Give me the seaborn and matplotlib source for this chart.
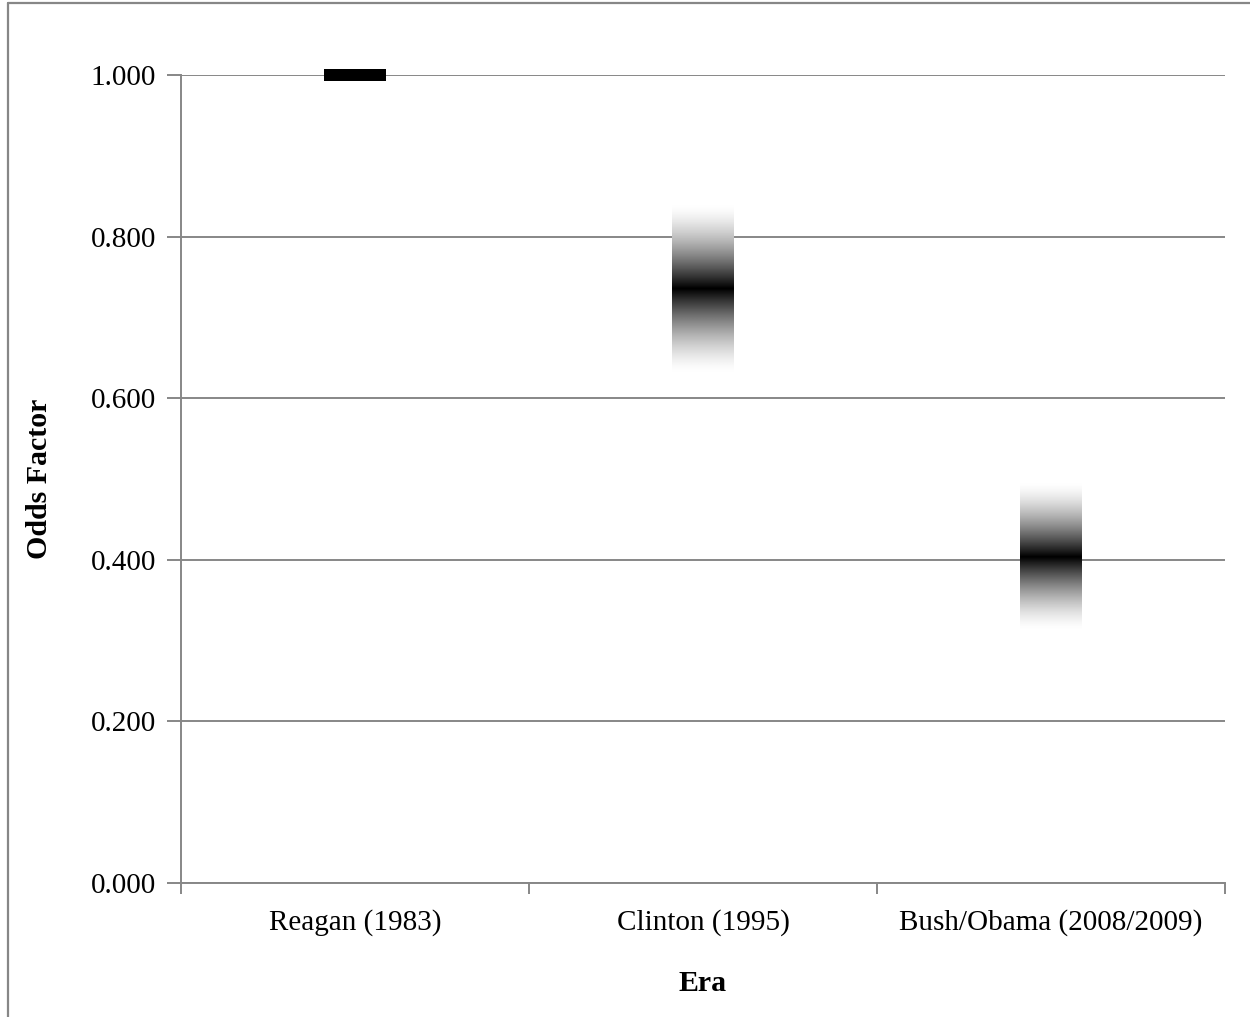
import numpy as np
import pandas as pd
import matplotlib
matplotlib.use("Agg")
import matplotlib.pyplot as plt
import seaborn as sns
from matplotlib.colors import LinearSegmentedColormap
from matplotlib.lines import Line2D

# Odds factor estimates by era, with the range shown as a shaded band
eras = ["Reagan (1983)", "Clinton (1995)", "Bush/Obama (2008/2009)"]
estimate = [1.000, 0.735, 0.403]
lower = [0.993, 0.631, 0.313]
upper = [1.008, 0.839, 0.495]
shaded = [False, True, True]

y_ticks = [0.0, 0.2, 0.4, 0.6, 0.8, 1.0]

df = pd.DataFrame({"Era": eras, "est": estimate, "lo": lower, "hi": upper})

sns.set_theme(style="white")
plt.rcParams["font.family"] = ["Liberation Serif", "DejaVu Serif"]

GRID = "#878787"

fig = plt.figure(figsize=(12.5, 10.17), dpi=100)
ax = fig.add_axes([181 / 1250, 1 - 883 / 1017, (1225 - 181) / 1250, (883 - 75) / 1017])

# invisible bars set up the categorical axis and give the band widths
sns.barplot(data=df, x="Era", y="hi", ax=ax, width=0.178,
            facecolor="none", edgecolor="none", errorbar=None)

# white -> black -> white fade centred on the estimate
fade = LinearSegmentedColormap.from_list("fade", ["white", "black"])
for patch, lo, hi, est, sh in zip(ax.patches, df["lo"], df["hi"], df["est"], shaded):
    x0 = patch.get_x()
    x1 = x0 + patch.get_width()
    if not sh:
        ax.fill_between([x0, x1], lo, hi, color="black", lw=0, zorder=3, clip_on=False)
        continue
    yy = np.linspace(lo, hi, 400)
    t = np.where(yy <= est, (yy - lo) / (est - lo), (hi - yy) / (hi - est))
    dark = np.clip(t, 0, 1) ** 1.5
    ax.imshow(dark[:, None], cmap=fade, vmin=0, vmax=1, origin="lower",
              extent=[x0, x1, lo, hi], aspect="auto", zorder=3,
              interpolation="bilinear")

ax.set_xlim(-0.5, 2.5)
ax.set_ylim(0, 1.0)
ax.set_yticks(y_ticks)
ax.set_yticklabels([f"{v:.3f}" for v in y_ticks])
ax.yaxis.grid(True, color=GRID, lw=1.4, zorder=1)
ax.xaxis.grid(False)
ax.set_axisbelow(True)

# category boundary ticks on x
ax.set_xticks([-0.5, 0.5, 1.5, 2.5], minor=True)
ax.tick_params(axis="x", which="minor", bottom=True, length=8, width=1.4, color=GRID)
ax.tick_params(axis="x", which="major", bottom=False, labelsize=21, pad=13, labelcolor="black")
ax.tick_params(axis="y", left=True, length=10, width=1.4, color=GRID,
               labelsize=21, pad=8, labelcolor="black")

for side in ["top", "right"]:
    ax.spines[side].set_visible(False)
for side in ["left", "bottom"]:
    ax.spines[side].set_color(GRID)
    ax.spines[side].set_linewidth(1.4)

ax.set_xlabel("Era", fontsize=21.5, fontweight="bold", labelpad=24, color="black")
ax.set_ylabel("Odds Factor", fontsize=21.5, fontweight="bold", labelpad=27, color="black")

# outer chart-area frame
fig.add_artist(Line2D([8 / 1250, 8 / 1250], [0, 1 - 3 / 1017], transform=fig.transFigure,
                      color=GRID, lw=1.6))
fig.add_artist(Line2D([8 / 1250, 1], [1 - 3 / 1017, 1 - 3 / 1017], transform=fig.transFigure,
                      color=GRID, lw=1.6))

fig.savefig("out.png", dpi=100, facecolor="white")
